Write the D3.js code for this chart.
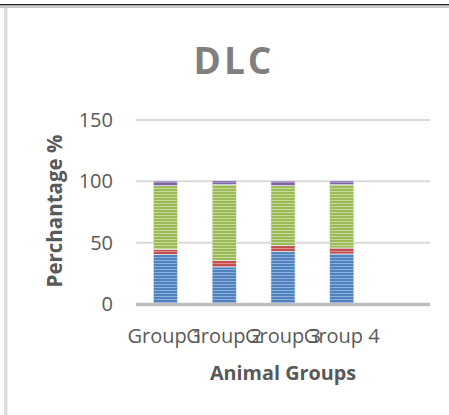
<!DOCTYPE html>
<html>
<head>
<meta charset="utf-8">
<script src="https://cdn.jsdelivr.net/npm/d3@7"></script>
<style>
  body { margin: 0; background: #fff; }
  text { font-family: "Open Sans", "Liberation Sans", sans-serif; }
</style>
</head>
<body>
<div class="chart"></div>
<script>
// chart data
var categories = ["Group 1", "Group 2", "Group 3", "Group 4", ""];
var seriesNames = ["s1", "s2", "s3", "s4"];
var s1 = [40.5, 30.2, 42.6, 40.8];
var s2 = [4.1, 5.2, 4.9, 4.9];
var s3 = [51.8, 62.0, 48.9, 51.6];
var s4 = [3.8, 3.0, 3.8, 3.0];
var yTicks = [0, 50, 100, 150];

var colors = ["#4f81bd", "#c0504d", "#9bbb59", "#8064a2"];
var stripes = ["#8eaee0", "#e08a88", "#c4dc95", "#a892c8"];

var svgWidth = 449;
var svgHeight = 415;

var svg = d3.select(".chart")
  .append("svg")
  .attr("width", svgWidth)
  .attr("height", svgHeight);

// striped fills like the excel pattern
var defs = svg.append("defs");
colors.forEach(function(c, i) {
  var p = defs.append("pattern")
    .attr("id", "pat" + i)
    .attr("patternUnits", "userSpaceOnUse")
    .attr("width", 10)
    .attr("height", 3);
  p.append("rect").attr("width", 10).attr("height", 3).attr("fill", c);
  p.append("rect").attr("y", 2).attr("width", 10).attr("height", 1).attr("fill", stripes[i]);
});

// frame bits from the screenshot
svg.append("rect").attr("x", 0).attr("y", 4).attr("width", svgWidth).attr("height", 1.5).attr("fill", "#222");
svg.append("rect").attr("x", 0).attr("y", 5.5).attr("width", svgWidth).attr("height", 2.5).attr("fill", "#c8c8c8");
svg.append("rect").attr("x", 4).attr("y", 8).attr("width", 3.5).attr("height", svgHeight - 8).attr("fill", "#dcdcdc");

var margin = { left: 136, right: 19, top: 120, bottom: 111 };
var width = svgWidth - margin.left - margin.right;
var height = 304 - margin.top;

var chartGroup = svg.append("g")
  .attr("transform", `translate(${margin.left}, ${margin.top})`);

var xScale = d3.scaleBand()
  .domain(d3.range(categories.length))
  .range([0, width])
  .paddingInner(0.59)
  .paddingOuter(0.295);

var yScale = d3.scaleLinear()
  .domain([0, 150])
  .range([height, 0]);

// gridlines
chartGroup.append("g")
  .selectAll("line")
  .data(yTicks.filter(d => d > 0))
  .enter()
  .append("line")
  .attr("x1", 0)
  .attr("x2", width)
  .attr("y1", d => yScale(d))
  .attr("y2", d => yScale(d))
  .attr("stroke", "#d9d9d9")
  .attr("stroke-width", 2);

// y tick labels
chartGroup.append("g")
  .selectAll("text")
  .data(yTicks)
  .enter()
  .append("text")
  .attr("x", -23)
  .attr("y", d => yScale(d))
  .attr("dy", "0.35em")
  .attr("text-anchor", "end")
  .attr("font-size", "20px")
  .attr("fill", "#595959")
  .text(d => d);

// stack
var table = s1.map(function(v, i) {
  return { cat: i, s1: s1[i], s2: s2[i], s3: s3[i], s4: s4[i] };
});
var stacked = d3.stack().keys(seriesNames)(table);

chartGroup.append("g")
  .selectAll("g")
  .data(stacked)
  .enter()
  .append("g")
  .attr("fill", (d, i) => "url(#pat" + i + ")")
  .selectAll("rect")
  .data(d => d)
  .enter()
  .append("rect")
  .attr("x", d => xScale(d.data.cat))
  .attr("width", xScale.bandwidth())
  .attr("y", d => yScale(d[1]))
  .attr("height", d => yScale(d[0]) - yScale(d[1]))
  .attr("stroke", "#e4ecf6")
  .attr("stroke-width", 0.6);

// x axis line
chartGroup.append("line")
  .attr("x1", 0)
  .attr("x2", width)
  .attr("y1", height + 0.5)
  .attr("y2", height + 0.5)
  .attr("stroke", "#bfbfbf")
  .attr("stroke-width", 3.5);

// x tick labels (they overlap in the original)
chartGroup.append("g")
  .selectAll("text")
  .data(categories)
  .enter()
  .append("text")
  .attr("x", (d, i) => xScale(i) + xScale.bandwidth() / 2)
  .attr("y", 343 - margin.top)
  .attr("text-anchor", "middle")
  .attr("font-size", "20px")
  .attr("fill", "#595959")
  .text(d => d);

// title
svg.append("text")
  .attr("x", 234)
  .attr("y", 74)
  .attr("text-anchor", "middle")
  .attr("font-size", "37px")
  .attr("font-weight", "bold")
  .attr("letter-spacing", "3px")
  .attr("fill", "#7f7f7f")
  .text("DLC");

// axis titles
svg.append("text")
  .attr("transform", "translate(62, 211) rotate(-90)")
  .attr("text-anchor", "middle")
  .attr("font-size", "20.5px")
  .attr("font-weight", "bold")
  .attr("fill", "#595959")
  .text("Perchantage %");

svg.append("text")
  .attr("x", 283)
  .attr("y", 380)
  .attr("text-anchor", "middle")
  .attr("font-size", "19.8px")
  .attr("font-weight", "bold")
  .attr("fill", "#595959")
  .text("Animal Groups");
</script>
</body>
</html>
